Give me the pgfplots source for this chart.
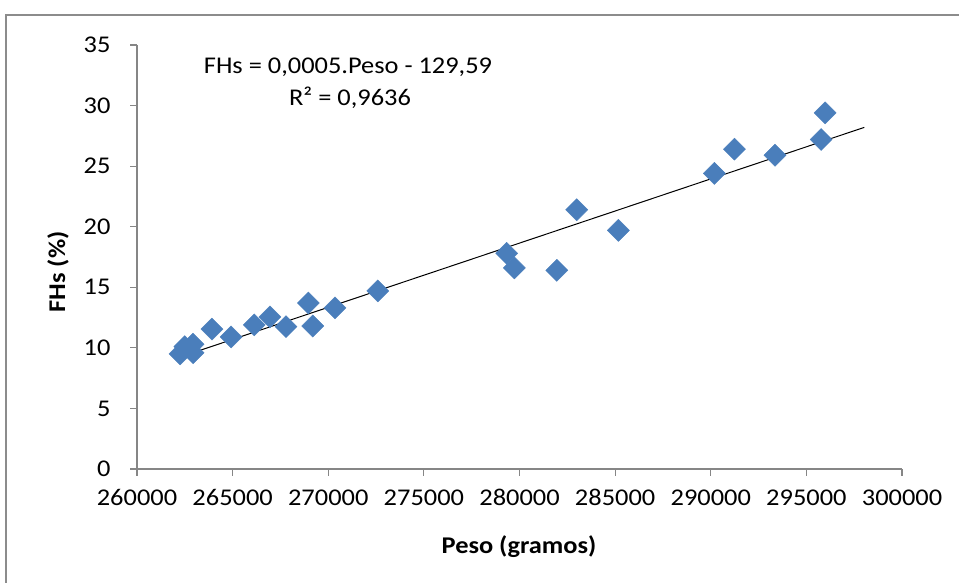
\documentclass[border=0pt]{standalone}
\usepackage{fontspec}
\setmainfont{Carlito}[FakeStretch=1.1]
\usepackage{pgfplots}
\pgfplotsset{compat=1.18}
\definecolor{markblue}{HTML}{4A7EBB}
\definecolor{axisgray}{HTML}{868686}
\definecolor{framegray}{HTML}{8C8C8C}
\begin{document}
\begin{tikzpicture}[x=1bp,y=1bp]
\useasboundingbox (0,0) rectangle (959,583);
\draw[framegray, line width=2.5bp] (6,-5) -- (6,568) -- (965,568);
\begin{axis}[
  at={(137bp,114bp)}, anchor=south west,
  scale only axis, width=765bp, height=424bp,
  xmin=260000, xmax=300000, ymin=0, ymax=35,
  xtick={260000,265000,...,300000}, ytick={0,5,...,35},
  scaled x ticks=false,
  axis x line=bottom, axis y line=left,
  axis line style={-, axisgray, line width=1.2bp},
  tick align=outside, major tick length=7bp,
  tick style={axisgray, line width=1.2bp},
  ticklabel style={font=\fontsize{24bp}{28bp}\selectfont, /pgf/number format/assume math mode=true},
  xticklabel style={yshift=-10bp, /pgf/number format/fixed, /pgf/number format/1000 sep={}},
  yticklabel style={xshift=-16bp},
  clip=false,
]
% data
\addplot[only marks, mark=square*, mark size=7.8bp,
  mark options={rotate=45, fill=markblue, draw=markblue}] coordinates {
  (262250,9.5) (262500,10.1) (262930,10.3) (262930,9.6)
  (263920,11.55) (264920,10.9) (266130,11.9) (266950,12.55)
  (267790,11.75) (268960,13.7) (269190,11.8) (270350,13.3)
  (272590,14.7) (279330,17.8) (279730,16.6) (281950,16.4)
  (282990,21.4) (285170,19.7) (290190,24.4) (291240,26.4)
  (293360,25.9) (295770,27.2) (295980,29.4)};
% linear trendline
\addplot[black, line width=1bp] coordinates {(262420,9.33) (298030,28.2)};
\end{axis}
\node[font=\fontsize{24bp}{28bp}\selectfont\bfseries, rotate=90] at (58,311) {FHs (\%)};
\node[font=\fontsize{24bp}{28bp}\selectfont\bfseries] at (519,36) {Peso (gramos)};
\node[font=\fontsize{24bp}{28bp}\selectfont] at (348,516) {FHs = 0,0005.Peso - 129,59};
\node[font=\fontsize{24bp}{28bp}\selectfont] at (350,485) {R² = 0,9636};
\end{tikzpicture}
\end{document}
